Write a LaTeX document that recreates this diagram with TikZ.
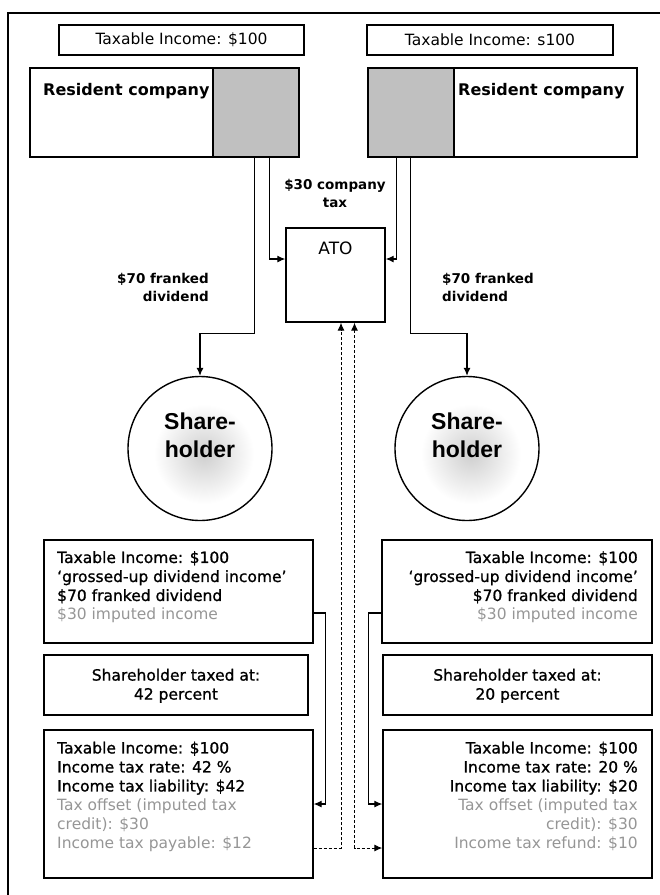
\documentclass[tikz,border=0pt]{standalone}
\usepackage{fontspec}
\setmainfont{DejaVu Sans}
\newfontfamily\libsans{Liberation Sans}
\newfontface\semib{DejaVu Sans}[FakeBold=1]
\usetikzlibrary{arrows.meta,calc}
\definecolor{tg}{RGB}{150,150,150}
\definecolor{cgrey}{RGB}{192,192,192}
\begin{document}
\begin{tikzpicture}[x=1pt,y=-1pt,
  box/.style={draw, line width=1.4pt, fill=white, rectangle, inner sep=0pt},
  boxtxt/.style={inner sep=0pt, font=\fontsize{15.5}{19}\selectfont},
  lbl/.style={inner sep=0pt, font=\fontsize{13.5}{18.5}\selectfont\bfseries},
  conn/.style={line width=1.1pt, -{Latex[length=8pt,width=7pt]}},
  dconn/.style={line width=1pt, dash pattern=on 3pt off 2pt, -{Latex[length=8pt,width=7pt]}},
  shc/.style={draw, circle, line width=1.4pt, minimum size=144pt, inner sep=0pt},
  shtxt/.style={inner sep=0pt, align=center, font=\libsans\fontsize{23}{28}\selectfont\bfseries}
]
\fill[white,use as bounding box] (0,0) rectangle (660,895);
\draw[line width=1.8pt] (8,900) -- (8,13) -- (665,13);

% top boxes
\node[box, minimum width=245pt, minimum height=30pt, font=\fontsize{15.5}{19}\selectfont] (ltop) at (181.5,40) {Taxable Income: \$100};
\node[box, minimum width=246pt, minimum height=30pt, font=\fontsize{15.5}{19}\selectfont] (rtop) at (490,40) {Taxable Income: s100};

% companies
\node[box, minimum width=269pt, minimum height=89pt] (lco) at (164.5,112.5) {};
\node[box, fill=cgrey, minimum width=86pt, minimum height=89pt] (lgrey) at (256,112.5) {};
\node[inner sep=0pt, anchor=base west, font=\fontsize{16}{19}\selectfont\bfseries] (lcot) at (43,95) {Resident company};
\node[box, minimum width=269pt, minimum height=89pt] (rco) at (502.5,112.5) {};
\node[box, fill=cgrey, minimum width=86pt, minimum height=89pt] (rgrey) at (411,112.5) {};
\node[inner sep=0pt, anchor=base west, font=\fontsize{16}{19}\selectfont\bfseries] (rcot) at (458,95) {Resident company};

% ATO
\node[box, minimum width=99pt, minimum height=94pt] (ato) at (335.5,275) {};
\node[inner sep=0pt, anchor=base, font=\fontsize{17}{20}\selectfont] (atot) at (335.5,254) {ATO};

% labels
\node[lbl, anchor=north, align=center] (taxlbl) at (335,178.7) {\$30 company\\tax};
\node[lbl, anchor=north east, align=right] (ldivlbl) at (209,272.7) {\$70 franked\\dividend};
\node[lbl, anchor=north west, align=left] (rdivlbl) at (442,272.7) {\$70 franked\\dividend};

% shareholders
\node[shc] (lsh) at (200,448.5) {};
\shade[inner color=gray!38, outer color=white] (204,454) circle (50);
\node[shtxt, anchor=north] (lsht) at (200,413) {Share-\\holder};
\node[shc] (rsh) at (467,448.5) {};
\shade[inner color=gray!38, outer color=white] (471,454) circle (50);
\node[shtxt, anchor=north] (rsht) at (467,413) {Share-\\holder};

% lower boxes left
\node[box, minimum width=269pt, minimum height=103pt] (lb1) at (178.5,591.5) {};
\node[boxtxt, anchor=north west, align=left] (lb1t) at (57,551) {\semib Taxable Income: \$100\\\semib ‘grossed-up dividend income’\\\semib \$70 franked dividend\\\color{tg}\$30 imputed income};
\node[box, minimum width=264pt, minimum height=60pt] (lb2) at (176,685) {};
\node[boxtxt, anchor=north, align=center] (lb2t) at (176,668.6) {\semib Shareholder taxed at:\\\semib 42 percent};
\node[box, minimum width=269pt, minimum height=148pt] (lb3) at (178.5,804) {};
\node[boxtxt, anchor=north west, align=left] (lb3t) at (57,741.5) {\semib Taxable Income: \$100\\\semib Income tax rate: 42 \%\\\semib Income tax liability: \$42\\\color{tg}Tax offset (imputed tax\\\color{tg}credit): \$30\\\color{tg}Income tax payable: \$12};

% lower boxes right
\node[box, minimum width=270pt, minimum height=103pt] (rb1) at (517,591.5) {};
\node[boxtxt, anchor=north east, align=right] (rb1t) at (638,551) {\semib Taxable Income: \$100\\\semib ‘grossed-up dividend income’\\\semib \$70 franked dividend\\\color{tg}\$30 imputed income};
\node[box, minimum width=269pt, minimum height=60pt] (rb2) at (517.5,685) {};
\node[boxtxt, anchor=north, align=center] (rb2t) at (517.5,668.6) {\semib Shareholder taxed at:\\\semib 20 percent};
\node[box, minimum width=269pt, minimum height=148pt] (rb3) at (517.5,804) {};
\node[boxtxt, anchor=north east, align=right] (rb3t) at (638,741.5) {\semib Taxable Income: \$100\\\semib Income tax rate: 20 \%\\\semib Income tax liability: \$20\\\color{tg}Tax offset (imputed tax\\\color{tg}credit): \$30\\\color{tg}Income tax refund: \$10};

% connectors
\draw[conn] ([xshift=57pt]lgrey.south west) |- ([yshift=16pt]ato.west);
\draw[conn] ([xshift=42pt]lgrey.south west) -- ++(0,176) -| (lsh.north);
\draw[conn] ([xshift=29pt]rgrey.south west) |- ([yshift=16pt]ato.east);
\draw[conn] ([xshift=43pt]rgrey.south west) -- ++(0,176) -| (rsh.north);

\draw[conn] ([yshift=-21.5pt]lb1.east) -- ++(12,0) |- (lb3.east);
\draw[conn] ([yshift=-21.5pt]rb1.west) -- ++(-13,0) |- (rb3.west);

\draw[dconn] ([yshift=-44pt]lb3.east) -| ([xshift=5.5pt]ato.south);
\draw[dconn, {Latex[length=8pt,width=7pt]}-{Latex[length=8pt,width=7pt]}] ([xshift=19pt]ato.south) |- ([yshift=-44pt]rb3.west);
\end{tikzpicture}
\end{document}
